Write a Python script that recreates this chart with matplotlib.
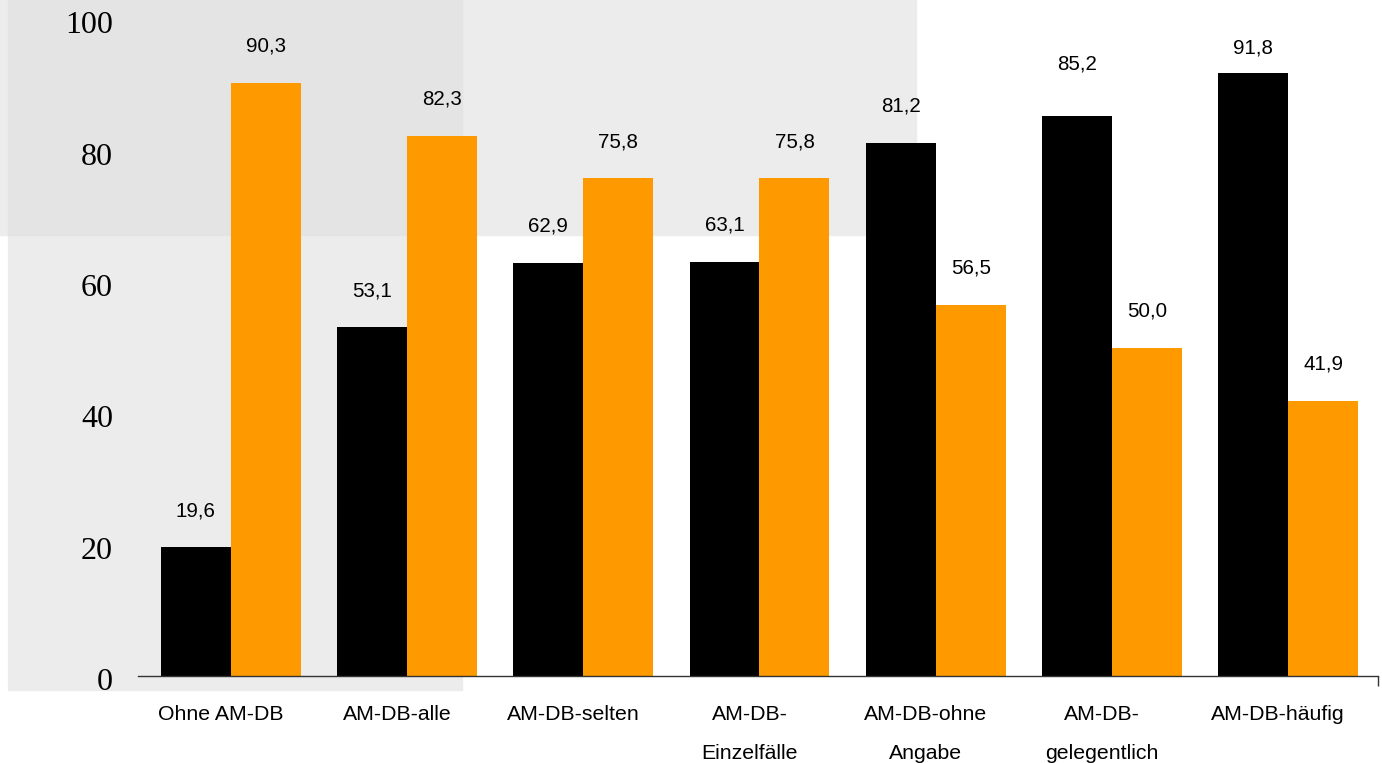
import numpy as np
import matplotlib.pyplot as plt
from matplotlib.patches import Rectangle
from matplotlib.transforms import ScaledTranslation

# data
categories = ['Ohne AM-DB', 'AM-DB-alle', 'AM-DB-selten', 'AM-DB-\nEinzelfälle',
              'AM-DB-ohne\nAngabe', 'AM-DB-\ngelegentlich', 'AM-DB-häufig']
black_vals = [19.6, 53.1, 62.9, 63.1, 81.2, 85.2, 91.8]
orange_vals = [90.3, 82.3, 75.8, 75.8, 56.5, 50.0, 41.9]
yticks = [0, 20, 40, 60, 80, 100]

W, H = 1382, 763
fig = plt.figure(figsize=(W / 100, H / 100), dpi=100)

# grey background panels (figure pixels, from top-left)
def rect_px(x0, y0, x1, y1, color):
    fig.patches.append(Rectangle((x0 / W, 1 - y1 / H), (x1 - x0) / W, (y1 - y0) / H,
                                 transform=fig.transFigure, color=color, zorder=-10))

rect_px(0, 0, 916, 235, '#ececec')
rect_px(8, 0, 462, 690, '#ececec')
rect_px(8, 0, 462, 235, '#e4e4e4')

ax = fig.add_axes([138 / W, 87 / H, (1378 - 138) / W, 656.7 / H])
ax.patch.set_alpha(0)

x = np.arange(len(categories))
w = 0.397
b1 = ax.bar(x - w / 2, black_vals, w, color='black')
b2 = ax.bar(x + w / 2, orange_vals, w, color='#ff9900')

# label offsets (points) above the bar tops; two black labels sit off the usual spot
black_off = [19.5, 19.5, 19.5, 19.5, 19.5, 31, 11.5]
orange_off = [19.5] * 7
for bars, vals, offs in ((b1, black_vals, black_off), (b2, orange_vals, orange_off)):
    for r, v, o in zip(bars, vals, offs):
        ax.annotate(f'{v:.1f}'.replace('.', ','),
                    (r.get_x() + r.get_width() / 2, v),
                    textcoords='offset points', xytext=(0, o),
                    ha='center', va='bottom', fontsize=14.8,
                    family='Liberation Sans')

ax.set_xlim(-0.527, 6.51)
ax.set_ylim(0, 100)

for s in ['top', 'right', 'left']:
    ax.spines[s].set_visible(False)
ax.spines['bottom'].set_color('#333333')
ax.spines['bottom'].set_linewidth(1.0)

ax.set_xticks(x)
ax.set_xticklabels(categories, fontsize=15.3, family='Liberation Sans',
                   linespacing=2.3, va='top')
ax.tick_params(axis='x', length=0, pad=21)
xshift = ScaledTranslation(-10 / 100, 0, fig.dpi_scale_trans)
for lab in ax.get_xticklabels():
    lab.set_transform(lab.get_transform() + xshift)
ax.set_xticks([6.51], minor=True)
ax.tick_params(axis='x', which='minor', length=7, width=1, color='#333333')

ax.set_yticks(yticks)
ax.set_yticklabels([str(t) for t in yticks], fontsize=23, family='Liberation Serif')
ax.tick_params(axis='y', length=0, pad=18)
shift = ScaledTranslation(0, -3 / 100, fig.dpi_scale_trans)
for lab in ax.get_yticklabels():
    lab.set_transform(lab.get_transform() + shift)

plt.savefig('out.png', dpi=100)
